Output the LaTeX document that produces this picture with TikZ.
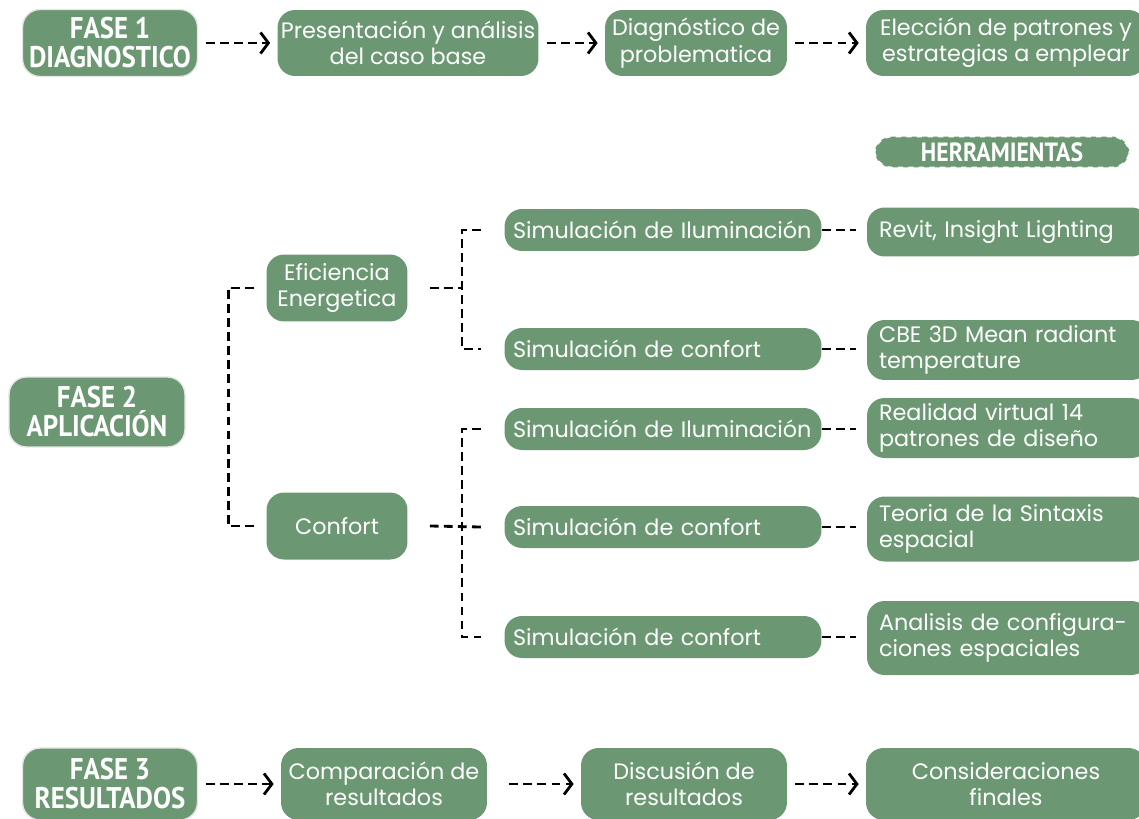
\documentclass[tikz,border=0pt]{standalone}
\usepackage{fontspec}
\setmainfont{Poppins}
\newfontfamily\fasefont{PT Sans}[FakeStretch=0.9]
\usetikzlibrary{arrows.meta}
\definecolor{verde}{RGB}{107,152,115}

\tikzset{
	caja/.style = {fill = verde, text = white, rounded corners = 0.35cm, align = center,
		inner sep = 0pt, font = \fontsize{12.7}{15}\selectfont},
	fase/.style = {caja, draw = black!10, line width = 0.8pt, minimum width = 3.5cm,
		font = \fasefont\bfseries\fontsize{17}{16.5}\selectfont},
	paso/.style = {caja, minimum height = 1.32cm},
	sim/.style = {caja, minimum width = 6.34cm, minimum height = 0.84cm,
		text width = 6.0cm, align = left},
	herr/.style = {caja, minimum height = 1.2cm, text width = 5.16cm, inner xsep = 0.24cm, align = left},
	flecha/.style = {line width = 1.6pt, dash pattern = on 5pt off 3pt,
		-{Straight Barb[length = 4.5pt, width = 12pt]}, shorten < = 0.16cm, shorten > = 0.14cm},
	guion/.style = {line width = 1.6pt, dash pattern = on 5pt off 3pt}
}

\begin{document}
\begin{tikzpicture} [x = 0.02cm, y = -0.02cm]
	\useasboundingbox (0, 0) rectangle (1139, 818) ;

	% fase 1
	\node [fase, minimum height = 1.34cm] (f1) at (110, 43) {FASE 1\\DIAGNOSTICO} ;
	\node [paso, minimum width = 5.22cm] (pres) at (408, 43) {Presentación y análisis\\del caso base} ;
	\node [paso, minimum width = 3.64cm] (diag) at (696, 43) {Diagnóstico de\\problematica} ;
	\node [paso, minimum width = 5.6cm] (elec) at (1006, 43) {Elección de patrones y\\estrategias a emplear} ;
	\draw [flecha] (f1) -- (pres) ;
	\draw [flecha] (pres) -- (diag) ;
	\draw [flecha] (diag) -- (elec) ;

	\node [caja, draw = white, dashed, line width = 1pt, minimum width = 5.1cm, minimum height = 0.62cm,
		font = \fasefont\bfseries\fontsize{15}{15}\selectfont] (herram) at (1002, 152) {HERRAMIENTAS} ;

	% fase 2
	\node [fase, minimum width = 3.52cm, minimum height = 1.4cm] (f2) at (97, 412) {FASE 2\\APLICACIÓN} ;
	\node [paso, minimum width = 2.82cm, minimum height = 1.34cm] (ef) at (337, 288) {Eficiencia\\Energetica} ;
	\node [paso, minimum width = 2.82cm, minimum height = 1.34cm] (conf) at (337, 526) {Confort} ;

	\node [sim] (si1) at (663, 230) {Simulación de Iluminación} ;
	\node [sim] (sc1) at (663, 349) {Simulación de confort} ;
	\node [sim] (si2) at (663, 429) {Simulación de Iluminación} ;
	\node [sim] (sc2) at (663, 527) {Simulación de confort} ;
	\node [sim] (sc3) at (663, 637) {Simulación de confort} ;

	\node [herr, minimum height = 0.98cm] (rev) at (1008, 232) {Revit, Insight Lighting} ;
	\node [herr] (cbe) at (1008, 350) {CBE 3D Mean radiant\\temperature} ;
	\node [herr] (real) at (1008, 428) {Realidad virtual 14\\patrones de diseño} ;
	\node [herr, minimum height = 1.3cm] (teo) at (1008, 529) {Teoria de la Sintaxis\\espacial} ;
	\node [herr, minimum height = 1.48cm] (ana) at (1008, 638) {Analisis de configura-\\ciones espaciales} ;

	\coordinate (c1) at (462, 288) ;
	\coordinate (c2) at (462, 524) ;
	\draw [guion] ([xshift = -0.24cm] ef.west) -- ++(-0.52cm, 0) |- ([xshift = -0.24cm] conf.west) ;
	\draw [guion] ([xshift = 0.44cm] ef.east) -- (c1) ;
	\draw [guion] ([xshift = -0.46cm] si1.west) -| (c1) |- ([xshift = -0.46cm] sc1.west) ;
	\draw [guion] ([xshift = 0.44cm] conf.east) -- ([xshift = -0.46cm] sc2.west) ;
	\draw [guion] ([xshift = -0.46cm] si2.west) -| (c2) |- ([xshift = -0.46cm] sc3.west) ;

	\draw [guion] (si1.east) -- ([xshift = -0.22cm] si1.east -| rev.west) ;
	\draw [guion] (sc1.east) -- ([xshift = -0.22cm] sc1.east -| cbe.west) ;
	\draw [guion] (si2.east) -- ([xshift = -0.22cm] si2.east -| real.west) ;
	\draw [guion] (sc2.east) -- ([xshift = -0.22cm] sc2.east -| teo.west) ;
	\draw [guion] (sc3.east) -- ([xshift = -0.22cm] sc3.east -| ana.west) ;

	% fase 3
	\node [fase, minimum height = 1.44cm] (f3) at (110, 784) {FASE 3\\RESULTADOS} ;
	\node [paso, minimum width = 4.12cm, minimum height = 1.44cm] (comp) at (384, 784) {Comparación de\\resultados} ;
	\node [paso, minimum width = 4.12cm, minimum height = 1.44cm] (disc) at (684, 784) {Discusión de\\resultados} ;
	\node [paso, minimum width = 5.6cm, minimum height = 1.44cm] (cons) at (1006, 784) {Consideraciones\\finales} ;
	\draw [flecha] (f3) -- (comp) ;
	\draw [flecha, shorten < = 0.44cm] (comp) -- (disc) ;
	\draw [flecha] (disc) -- (cons) ;
\end{tikzpicture}
\end{document}
